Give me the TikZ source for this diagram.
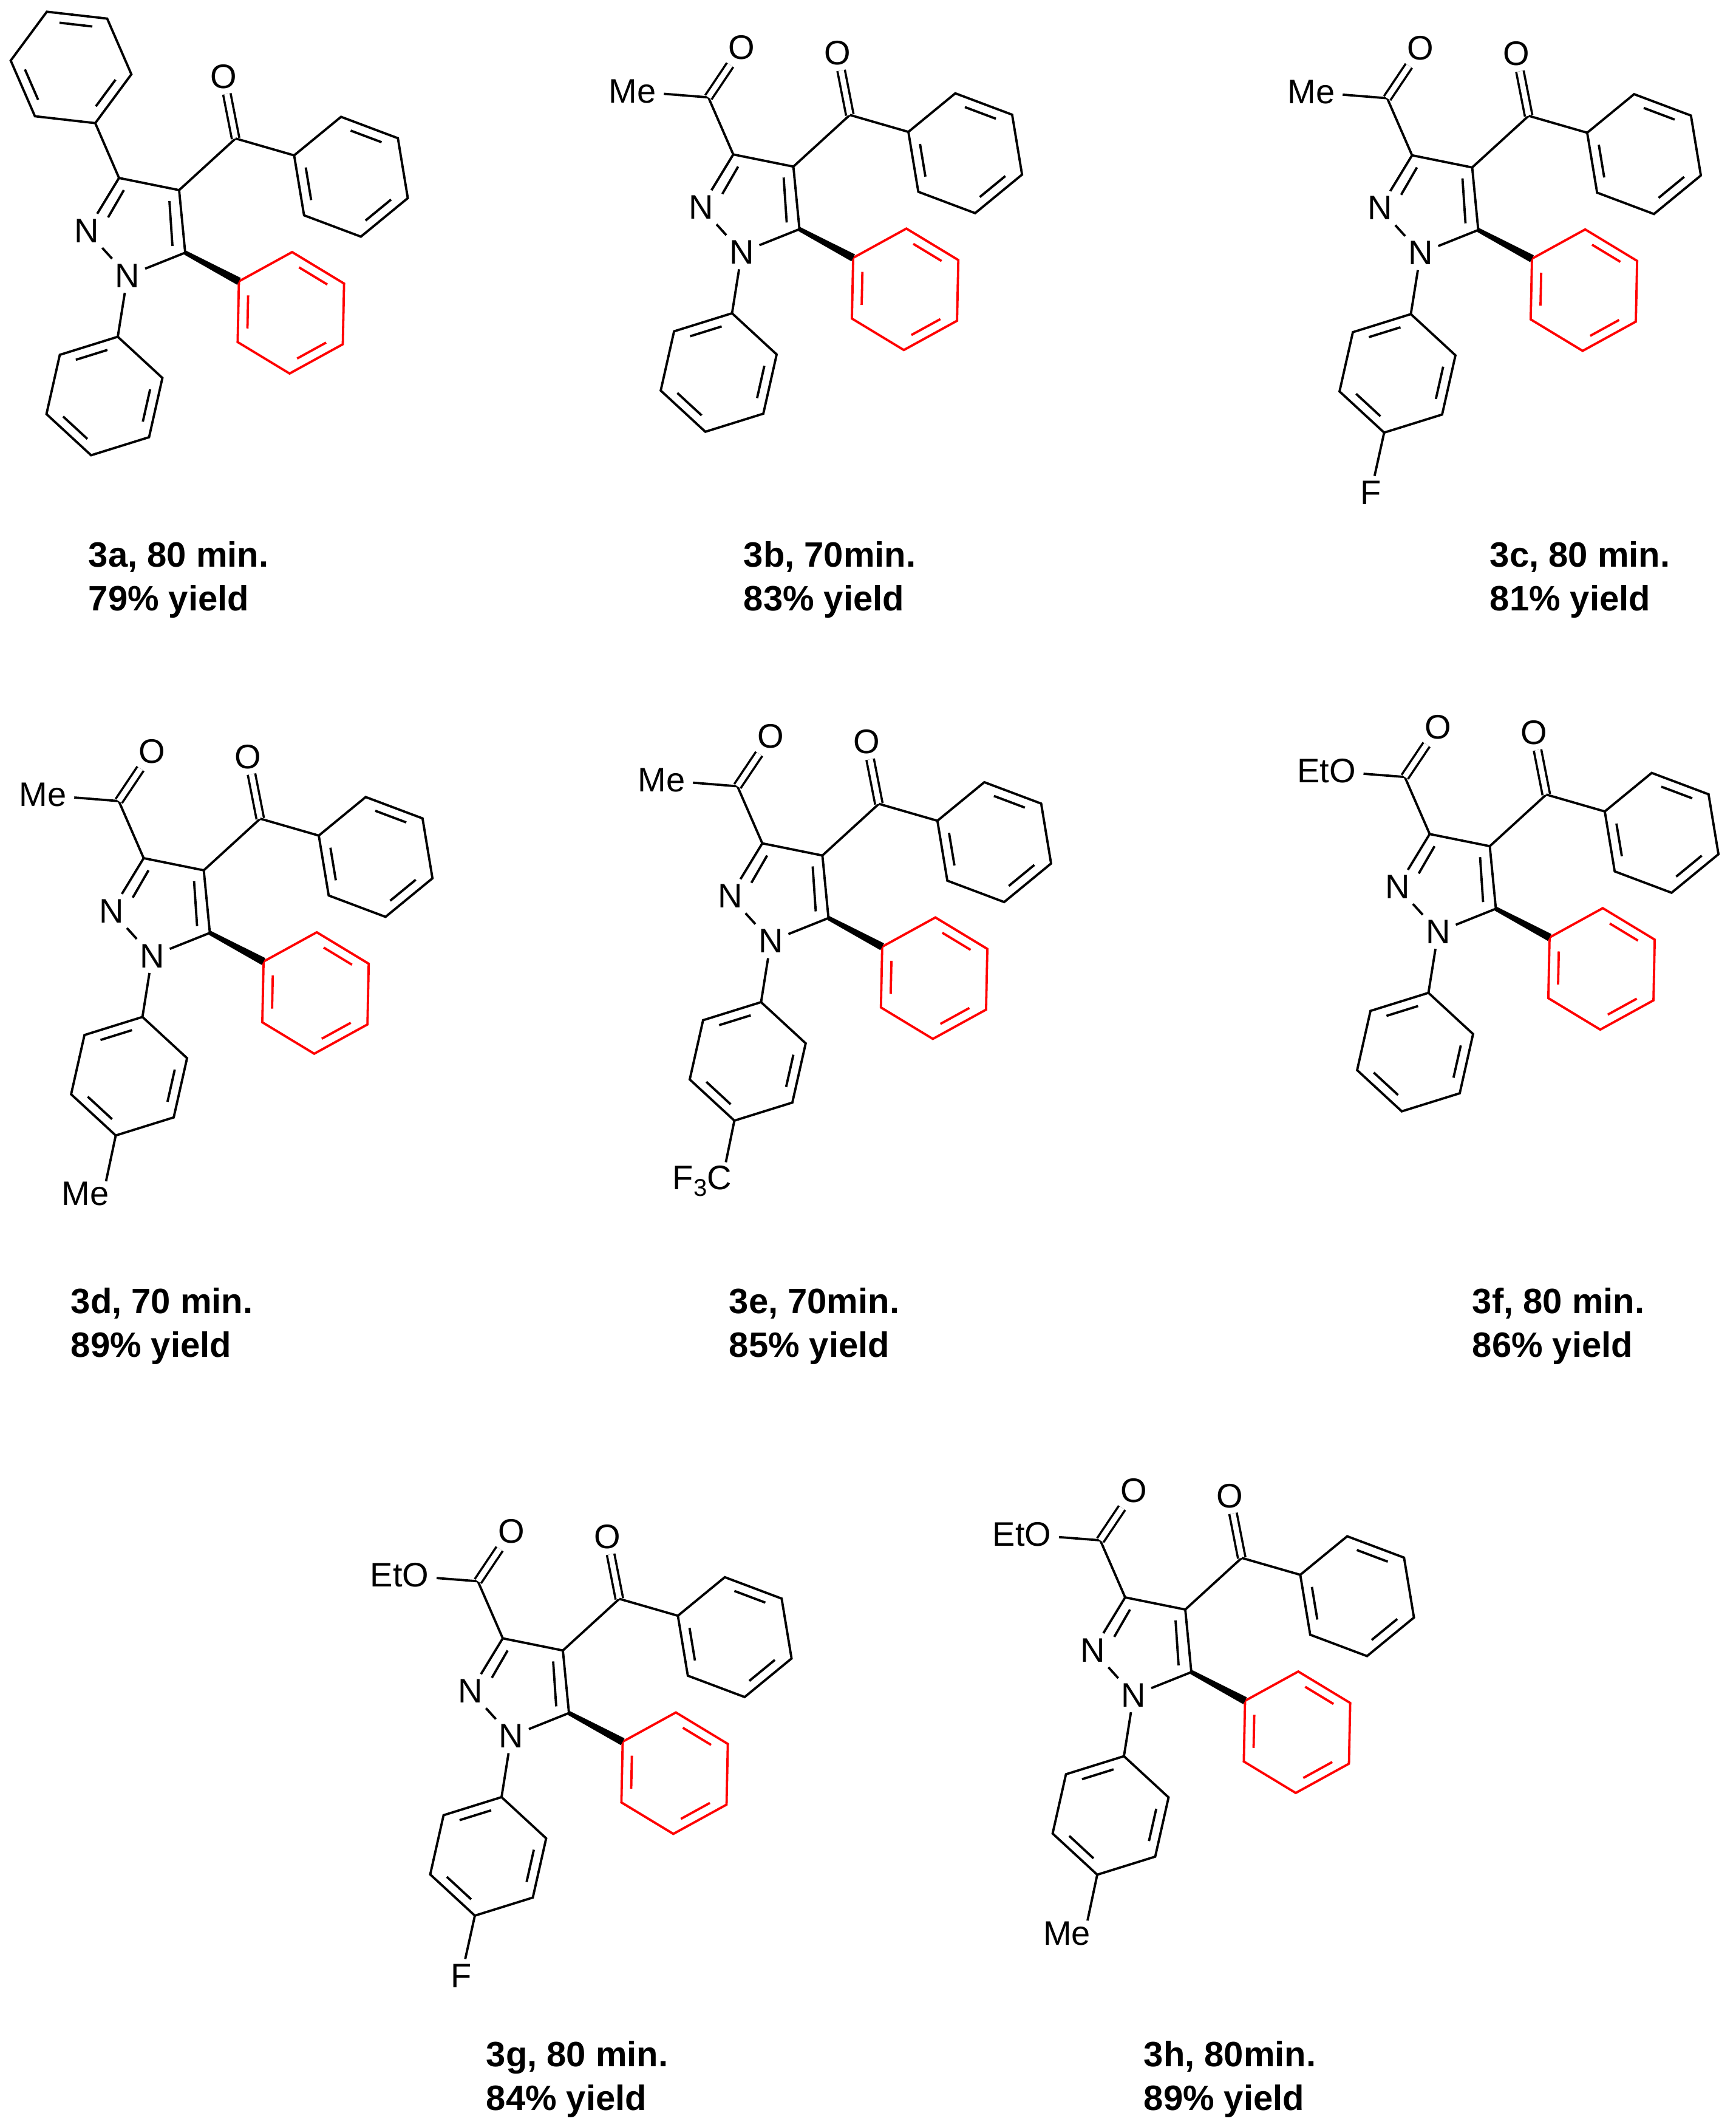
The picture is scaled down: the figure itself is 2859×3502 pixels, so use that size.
\documentclass[tikz,border=0pt]{standalone}
\usepackage{fontspec}
\setmainfont{Liberation Sans}
\usetikzlibrary{calc}
\tikzset{
  bond/.style={line width=0.95pt},
  atom/.style={inner sep=2pt, font=\fontsize{14}{16}\selectfont},
  lbl/.style={inner sep=3pt, font=\fontsize{14}{16}\selectfont},
  dbl/.style={double, double distance=2.2pt, line width=0.9pt},
  capt/.style={font=\fontsize{14.5}{17}\selectfont\bfseries, anchor=base west, inner sep=0pt},
}
\newcommand{\benz}[5]{%
  \coordinate (#1c) at (#2,#3);
  \foreach \k in {1,...,6} {\coordinate (#1\k) at ($(#1c)+({#4+60*(\k-1)}:100)$);}
  \draw[bond,#5] (#11)--(#12)--(#13)--(#14)--(#15)--(#16)--cycle;
  \foreach \i in {1,3,5} {\draw[bond,#5] ($(#1c)+({#4+60*\i+9}:76)$) -- ($(#1c)+({#4+60*(\i+1)-9}:76)$);}
}
\newcommand{\core}[3]{%
 \begin{scope}[shift={(#2,#3)}]
  \coordinate (#1c3) at (0,0);
  \coordinate (#1c4) at (99,20);
  \coordinate (#1c5) at (109,123);
  \node[atom] (#1n1) at (14,161) {N};
  \node[atom] (#1n2) at (-53,87) {N};
  \draw[bond] (#1c3)--(#1c4)--(#1c5)--(#1n1)--(#1n2)--(#1c3);
  \draw[bond] (8,20) -- (-18,65);
  \draw[bond] (83,38) -- (88,112);
  \coordinate (#1c7) at (192,-65);
  \node[atom] (#1o7) at (172,-167) {O};
  \draw[bond] (#1c4)--(#1c7);
  \draw[dbl] (#1c7)--(#1o7);
  \benz{#1b}{382}{-2}{200.6}{black}
  \draw[bond] (#1c7)--(#1b1);
  \benz{#1r}{283}{222}{211.2}{red}
  \fill ($(#1c5)!0.9pt!90:(#1r1)$) -- ($(#1r1)!1.6pt!-90:(#1c5)$) -- ($(#1r1)!1.6pt!90:(#1c5)$) -- ($(#1c5)!0.9pt!-90:(#1r1)$) -- cycle;
  \benz{#1a}{-24}{359}{282.7}{black}
  \draw[bond] (#1n1)--(#1a1);
 \end{scope}}
\newcommand{\acyl}[3]{%
  \coordinate (#1c6) at ($(#1c3)+(-41,-94)$);
  \node[atom] (#1o6) at ($(#1c3)+(14,-176)$) {O};
  \node[lbl] (#1g) at ($(#1c3)+(#3,-104)$) {#2};
  \draw[bond] (#1c3)--(#1c6)--(#1g);
  \draw[dbl] (#1c6)--(#1o6);}
\newcommand{\paraF}[1]{%
  \node[atom] (#1f) at ($(#1c3)+(-68,556)$) {F};
  \draw[bond] (#1a4)--(#1f);}
\newcommand{\paraMe}[1]{%
  \node[lbl] (#1pm) at ($(#1c3)+(-96,553)$) {Me};
  \coordinate (#1pe) at ($(#1c3)+(-62,532)$);
  \draw[bond] (#1a4)--(#1pe);}
\newcommand{\paraCF}[1]{%
  \node[lbl] (#1pm) at ($(#1c3)+(-99,556)$) {F\raisebox{-0.35ex}{\fontsize{10}{10}\selectfont 3}C};
  \coordinate (#1pe) at ($(#1c3)+(-60,525)$);
  \draw[bond] (#1a4)--(#1pe);}
\newcommand{\molcap}[5]{%
  \node[capt] (#1l1) at (#2,#3) {#4};
  \node[capt] (#1l2) at (#2,#3+72) {#5};}
\begin{document}
\begin{tikzpicture}[x=0.25pt,y=-0.25pt]
\useasboundingbox[fill=white] (0,0) rectangle (2859,3502);
% 3a
\core{A}{196}{293}
\benz{Ap}{-79+196}{-182+293}{66.5}{black}
\draw[bond] (Ac3)--(Ap1);
% 3b
\core{B}{1207.6}{254.3}
\acyl{B}{Me}{-166}
% 3c
\core{C}{2325.5}{255.7}
\acyl{C}{Me}{-166}
\paraF{C}
% 3d
\core{D}{236.6}{1412.9}
\acyl{D}{Me}{-166}
\paraMe{D}
% 3e
\core{E}{1255.4}{1388.5}
\acyl{E}{Me}{-166}
\paraCF{E}
% 3f
\core{F}{2354.5}{1373.2}
\acyl{F}{EtO}{-170}
% 3g
\core{G}{828}{2697.4}
\acyl{G}{EtO}{-170}
\paraF{G}
% 3h
\core{H}{1853}{2630}
\acyl{H}{EtO}{-170}
\paraMe{H}
% captions
\molcap{ka}{145}{933}{3a, 80 min.}{79\% yield}
\molcap{kb}{1224}{933}{3b, 70min.}{83\% yield}
\molcap{kc}{2453}{933}{3c, 80 min.}{81\% yield}
\molcap{kd}{116}{2162}{3d, 70 min.}{89\% yield}
\molcap{ke}{1200}{2162}{3e, 70min.}{85\% yield}
\molcap{kf}{2424}{2162}{3f, 80 min.}{86\% yield}
\molcap{kg}{800}{3402}{3g, 80 min.}{84\% yield}
\molcap{kh}{1883}{3402}{3h, 80min.}{89\% yield}
\end{tikzpicture}
\end{document}
